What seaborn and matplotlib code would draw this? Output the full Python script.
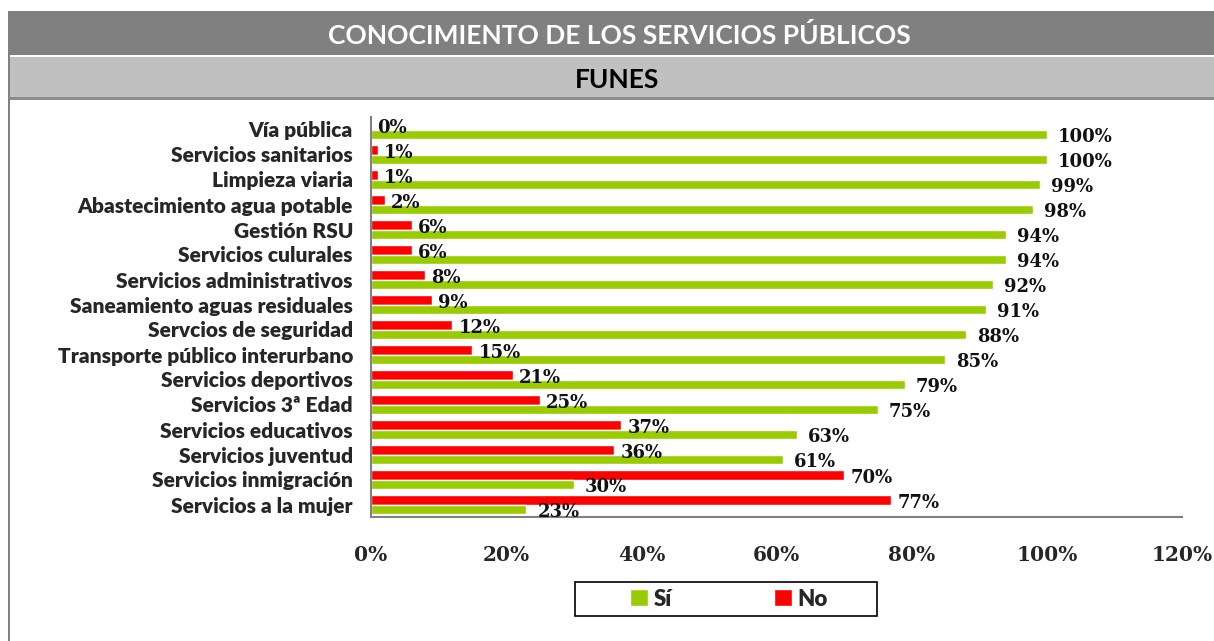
import pandas as pd
import seaborn as sns
import matplotlib.pyplot as plt
from matplotlib.patches import Rectangle, Patch
from matplotlib.ticker import FuncFormatter, FixedLocator

servicios = ["Vía pública", "Servicios sanitarios", "Limpieza viaria",
             "Abastecimiento agua potable", "Gestión RSU", "Servicios culurales",
             "Servicios administrativos", "Saneamiento aguas residuales",
             "Servcios de seguridad", "Transporte público interurbano",
             "Servicios deportivos", "Servicios 3ª Edad", "Servicios educativos",
             "Servicios juventud", "Servicios inmigración", "Servicios a la mujer"]
si = [100, 100, 99, 98, 94, 94, 92, 91, 88, 85, 79, 75, 63, 61, 30, 23]
no = [0, 1, 1, 2, 6, 6, 8, 9, 12, 15, 21, 25, 37, 36, 70, 77]

df = pd.DataFrame({
    "servicio": servicios * 2,
    "respuesta": ["No"] * len(no) + ["Sí"] * len(si),
    "pct": no + si,
})

VERDE = "#99CC00"
ROJO = "#FF0000"

sns.set_style("white")
plt.rcParams["font.family"] = ["Lato", "DejaVu Sans"]

fig = plt.figure(figsize=(12.14, 6.41), dpi=100)
ax = fig.add_axes([371 / 1214, 1 - 517 / 641, (1182 - 371) / 1214, 400 / 641])

sns.barplot(data=df, y="servicio", x="pct", hue="respuesta", hue_order=["No", "Sí"],
            palette={"No": ROJO, "Sí": VERDE}, orient="h", width=0.76,
            errorbar=None, legend=False, ax=ax, saturation=1)

## etiquetas de valor (No mas pegado, Sí algo mas separado)
for cont, pad in zip(ax.containers, [4.5, 8]):
    txts = ax.bar_label(cont, labels=[f"{int(round(v))}%" for v in cont.datavalues],
                        padding=pad, fontsize=13, fontweight="bold",
                        family=["DejaVu Serif"], color="#111111")
    for t in txts:
        x0, y0 = t.xyann
        t.xyann = (x0, y0 - 2)

ax.set_xlim(0, 120)
ax.set_ylim(15.5, -0.5)
ax.set_xticks(range(0, 121, 20))
ax.xaxis.set_major_formatter(FuncFormatter(lambda v, p: f"{int(v)}%"))
ax.set_xlabel("")
ax.set_ylabel("")

for s in ["top", "right"]:
    ax.spines[s].set_visible(False)
for s in ["left", "bottom"]:
    ax.spines[s].set_color("#808080")
    ax.spines[s].set_linewidth(1.5)

ax.tick_params(axis="y", which="major", length=0, pad=13, labelsize=15)
ax.yaxis.set_minor_locator(FixedLocator([i - 0.5 for i in range(len(servicios) + 1)]))
ax.tick_params(axis="y", which="minor", length=4, width=1, color="#606060", direction="out")
ax.tick_params(axis="x", length=5, width=1, color="#606060", direction="out", pad=15)
for lab in ax.get_yticklabels():
    lab.set_fontweight("heavy")
for lab in ax.get_xticklabels():
    lab.set_fontweight("bold")
    lab.set_family(["DejaVu Serif"])
    lab.set_fontsize(14.5)

## cabecera
fig.add_artist(Rectangle((8 / 1214, 1 - 55 / 641), 1, 44 / 641, transform=fig.transFigure,
                         facecolor="#808080", edgecolor="none"))
fig.add_artist(Rectangle((10 / 1214, 1 - 97 / 641), 1, 40 / 641, transform=fig.transFigure,
                         facecolor="#C0C0C0", edgecolor="none"))
fig.add_artist(Rectangle((8 / 1214, 1 - 100 / 641), 1, 3 / 641, transform=fig.transFigure,
                         facecolor="#8C8C8C", edgecolor="none"))
fig.add_artist(Rectangle((8 / 1214, 0), 2 / 1214, 1 - 11 / 641, transform=fig.transFigure,
                         facecolor="#808080", edgecolor="none"))
fig.text(619 / 1214, 1 - 35 / 641, "CONOCIMIENTO DE LOS SERVICIOS PÚBLICOS", color="white",
         fontsize=19, fontweight="bold", ha="center", va="center")
fig.text(617 / 1214, 1 - 80 / 641, "FUNES", color="black",
         fontsize=19, fontweight="bold", ha="center", va="center")

## leyenda
fig.add_artist(Rectangle((575 / 1214, 1 - 616 / 641), 302 / 1214, 34 / 641,
                         transform=fig.transFigure, facecolor="white", edgecolor="black",
                         linewidth=1.2))
handles = [Patch(facecolor=VERDE, label="Sí"), Patch(facecolor=ROJO, label="No")]
leg = fig.legend(handles=handles, loc="center", ncol=2,
                 bbox_to_anchor=(729 / 1214, 1 - 599 / 641), frameon=False,
                 handlelength=0.8, handleheight=0.8, handletextpad=0.25, columnspacing=4.6,
                 borderpad=0.3, prop={"weight": "heavy", "size": 16})
plt.savefig("out.png", dpi=100)
